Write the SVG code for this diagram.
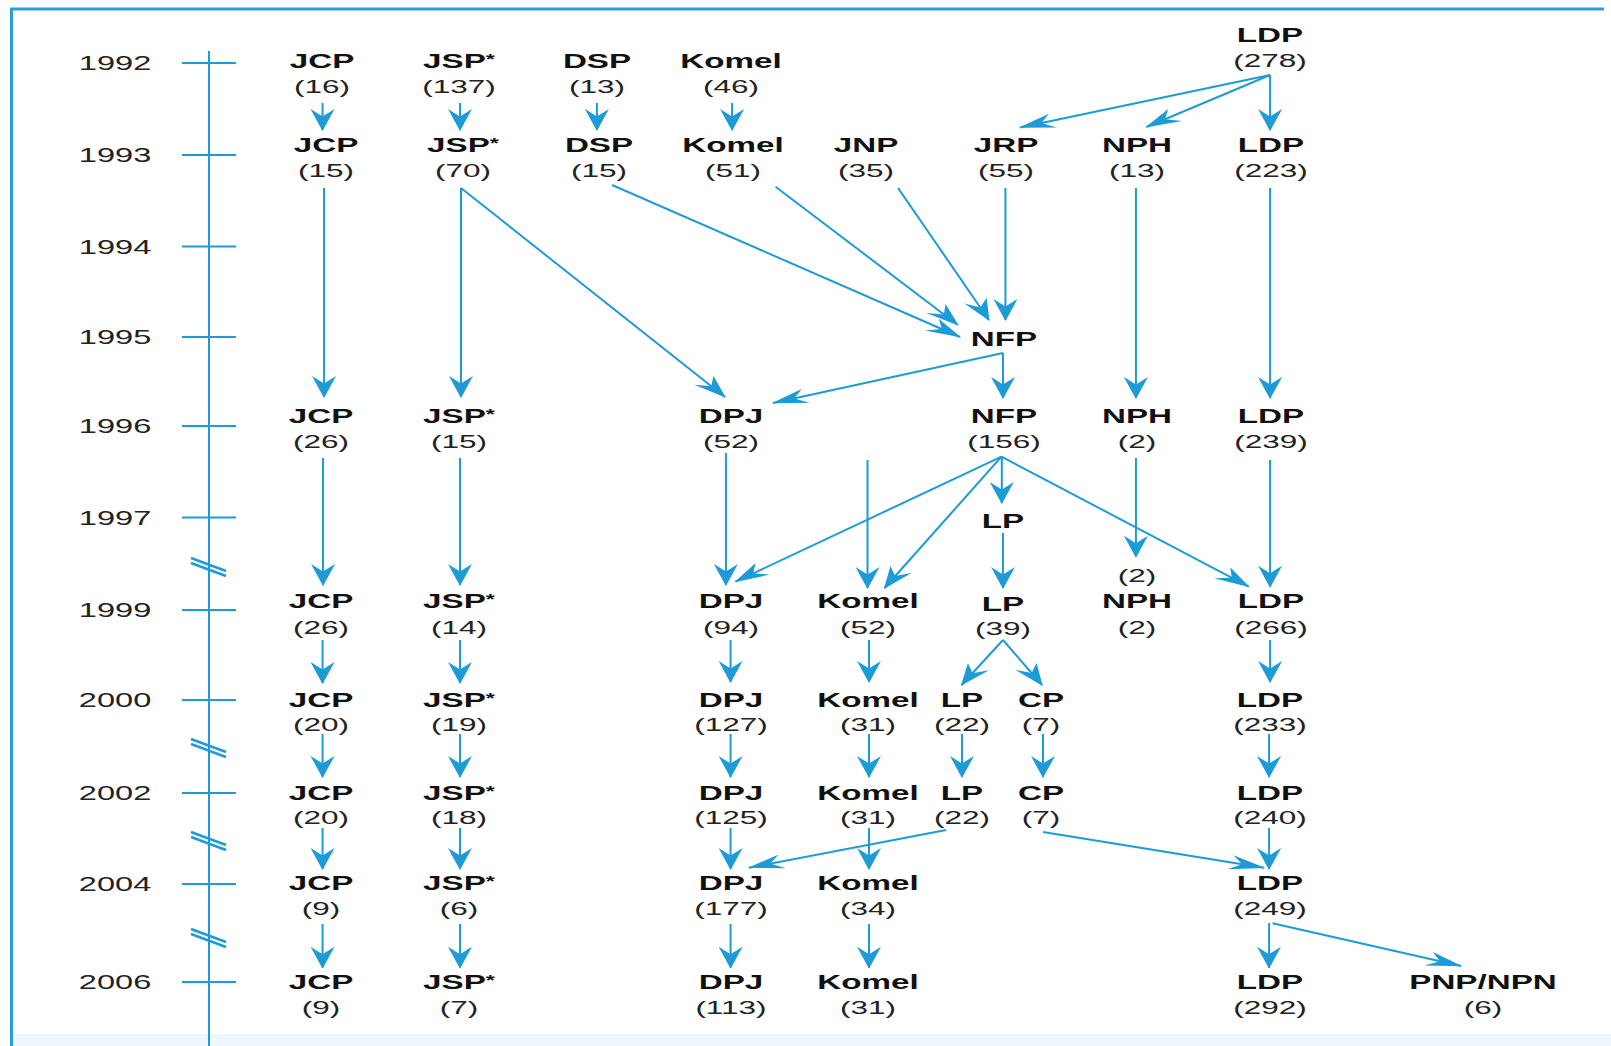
<svg xmlns="http://www.w3.org/2000/svg" width="1611" height="1046" viewBox="0 0 1611 1046">
<defs>
<style>
.n{font-family:"Liberation Sans",Arial,sans-serif;font-weight:bold;font-size:20px;fill:#111;text-anchor:middle}
.c{font-family:"Liberation Sans",Arial,sans-serif;font-size:19px;fill:#222;text-anchor:middle}
.y{font-family:"Liberation Sans",Arial,sans-serif;font-size:20px;fill:#222;text-anchor:middle}
.ax{stroke:#1d9bd7;stroke-width:2;fill:none}
.tk{stroke:#1d9bd7;stroke-width:1.8;fill:none}
.br{stroke:#1d9bd7;stroke-width:2.5;fill:none}
#connectors line{stroke:#1d9bd7;stroke-width:2;fill:none;marker-end:url(#ah);vector-effect:non-scaling-stroke}
</style>
<marker id="ah" markerUnits="userSpaceOnUse" markerWidth="22" markerHeight="14.5" viewBox="0 0 22 14.5" refX="21" refY="7.25" orient="auto">
<path d="M0,0 L22,7.25 L0,14.5 L7.5,7.25 Z" fill="#1d9bd7"/>
</marker>
</defs>
<rect x="0" y="0" width="1611" height="1046" fill="#fff"/>
<rect x="13" y="1034" width="1598" height="12" fill="#eef8fc"/>
<g id="frame">
<line x1="10" y1="9" x2="1604" y2="9" stroke="#2a9fd3" stroke-width="3"/>
<line x1="11.5" y1="9" x2="11.5" y2="1046" stroke="#2a9fd3" stroke-width="3"/>
</g>
<g id="timeline">
<line class="ax" x1="209" y1="51" x2="209" y2="1046"/>
<line class="tk" x1="182" y1="63" x2="236" y2="63"/>
<line class="tk" x1="182" y1="155" x2="236" y2="155"/>
<line class="tk" x1="182" y1="246.5" x2="236" y2="246.5"/>
<line class="tk" x1="182" y1="337" x2="236" y2="337"/>
<line class="tk" x1="182" y1="426" x2="236" y2="426"/>
<line class="tk" x1="182" y1="517.5" x2="236" y2="517.5"/>
<line class="tk" x1="182" y1="610" x2="236" y2="610"/>
<line class="tk" x1="182" y1="700" x2="236" y2="700"/>
<line class="tk" x1="182" y1="793" x2="236" y2="793"/>
<line class="tk" x1="182" y1="884" x2="236" y2="884"/>
<line class="tk" x1="182" y1="982" x2="236" y2="982"/>
<g id="breaks">
<line class="br" x1="191" y1="558" x2="226" y2="571"/><line class="br" x1="191" y1="563" x2="226" y2="576"/>
<line class="br" x1="191" y1="739" x2="226" y2="752"/><line class="br" x1="191" y1="744" x2="226" y2="757"/>
<line class="br" x1="191" y1="832" x2="226" y2="845"/><line class="br" x1="191" y1="837" x2="226" y2="850"/>
<line class="br" x1="191" y1="929" x2="226" y2="942"/><line class="br" x1="191" y1="934" x2="226" y2="947"/>
</g>
<text class="y" transform="matrix(1.63 0 0 1 115 70)">1992</text>
<text class="y" transform="matrix(1.63 0 0 1 115 162)">1993</text>
<text class="y" transform="matrix(1.63 0 0 1 115 253.5)">1994</text>
<text class="y" transform="matrix(1.63 0 0 1 115 344)">1995</text>
<text class="y" transform="matrix(1.63 0 0 1 115 433)">1996</text>
<text class="y" transform="matrix(1.63 0 0 1 115 524.5)">1997</text>
<text class="y" transform="matrix(1.63 0 0 1 115 617)">1999</text>
<text class="y" transform="matrix(1.63 0 0 1 115 707)">2000</text>
<text class="y" transform="matrix(1.63 0 0 1 115 800)">2002</text>
<text class="y" transform="matrix(1.63 0 0 1 115 891)">2004</text>
<text class="y" transform="matrix(1.63 0 0 1 115 989)">2006</text>
</g>
<g id="connectors" transform="scale(1.66 1)">
<line x1="194.3" y1="103" x2="194.3" y2="130"/>
<line x1="277.1" y1="103" x2="277.1" y2="130"/>
<line x1="359.6" y1="103" x2="359.6" y2="130"/>
<line x1="441" y1="103" x2="441" y2="130"/>
<line x1="765.1" y1="75" x2="614.5" y2="127.5"/>
<line x1="765.1" y1="75" x2="690.7" y2="127"/>
<line x1="765.1" y1="75" x2="765.1" y2="130"/>
<line x1="195.2" y1="188" x2="195.2" y2="397"/>
<line x1="277.7" y1="188" x2="277.7" y2="397"/>
<line x1="277.7" y1="188" x2="436.7" y2="397"/>
<line x1="368.7" y1="185" x2="578.3" y2="337"/>
<line x1="467.2" y1="186.7" x2="577" y2="325"/>
<line x1="541" y1="188" x2="595.7" y2="320"/>
<line x1="605.7" y1="188" x2="605.7" y2="320"/>
<line x1="684.3" y1="188" x2="684.3" y2="398"/>
<line x1="765.1" y1="188" x2="765.1" y2="398"/>
<line x1="604.2" y1="353" x2="604.2" y2="398"/>
<line x1="604.2" y1="353" x2="465.7" y2="403"/>
<line x1="194.6" y1="458" x2="194.6" y2="585"/>
<line x1="277.1" y1="458" x2="277.1" y2="585"/>
<line x1="437.3" y1="453" x2="437.3" y2="585"/>
<line x1="522.6" y1="460" x2="522.6" y2="588"/>
<line x1="603.3" y1="456.7" x2="443.1" y2="581.7"/>
<line x1="603.3" y1="456.7" x2="532.9" y2="588"/>
<line x1="603.5" y1="456.7" x2="603.5" y2="503"/>
<line x1="603.3" y1="456.7" x2="752.2" y2="586.7"/>
<line x1="604.2" y1="533" x2="604.2" y2="588"/>
<line x1="684.3" y1="458" x2="684.3" y2="556.7"/>
<line x1="765.1" y1="460" x2="765.1" y2="586.7"/>
<line x1="194.3" y1="640" x2="194.3" y2="683"/>
<line x1="277.1" y1="640" x2="277.1" y2="683"/>
<line x1="440.1" y1="640" x2="440.1" y2="682"/>
<line x1="523.5" y1="640" x2="523.5" y2="682"/>
<line x1="604.2" y1="640" x2="579.3" y2="685"/>
<line x1="604.2" y1="640" x2="627.7" y2="685"/>
<line x1="765.1" y1="640" x2="765.1" y2="682"/>
<line x1="194.3" y1="734" x2="194.3" y2="777"/>
<line x1="277.1" y1="734" x2="277.1" y2="777"/>
<line x1="440.1" y1="734" x2="440.1" y2="777"/>
<line x1="523.5" y1="734" x2="523.5" y2="777"/>
<line x1="579.5" y1="734" x2="579.5" y2="777"/>
<line x1="628.3" y1="734" x2="628.3" y2="777"/>
<line x1="764.5" y1="734" x2="764.5" y2="777"/>
<line x1="194.3" y1="828" x2="194.3" y2="869"/>
<line x1="277.1" y1="828" x2="277.1" y2="869"/>
<line x1="440.1" y1="828" x2="440.1" y2="869"/>
<line x1="523.5" y1="828" x2="523.5" y2="869"/>
<line x1="764.5" y1="828" x2="764.5" y2="869"/>
<line x1="569.9" y1="830" x2="451.2" y2="867.7"/>
<line x1="628.3" y1="832" x2="761.4" y2="867.7"/>
<line x1="194.3" y1="924" x2="194.3" y2="967.7"/>
<line x1="277.1" y1="924" x2="277.1" y2="967.7"/>
<line x1="440.1" y1="924" x2="440.1" y2="967.7"/>
<line x1="523.5" y1="924" x2="523.5" y2="967.7"/>
<line x1="764.5" y1="923" x2="764.5" y2="967.7"/>
<line x1="766.6" y1="923.3" x2="880.1" y2="966"/>
</g>
<g id="jcp1992"><text class="n" transform="matrix(1.66 0 0 1 322 68)">JCP</text><text class="c" transform="matrix(1.66 0 0 1 322 93)">(16)</text></g>
<g id="jsp1992"><text class="n" transform="matrix(1.66 0 0 1 459 68)">JSP<tspan font-size="14" dy="-4">*</tspan></text><text class="c" transform="matrix(1.66 0 0 1 459 93)">(137)</text></g>
<g id="dsp1992"><text class="n" transform="matrix(1.66 0 0 1 597 68)">DSP</text><text class="c" transform="matrix(1.66 0 0 1 597 93)">(13)</text></g>
<g id="komel1992"><text class="n" transform="matrix(1.66 0 0 1 731 68)">Komel</text><text class="c" transform="matrix(1.66 0 0 1 731 93)">(46)</text></g>
<g id="ldp1992"><text class="n" transform="matrix(1.66 0 0 1 1270 42)">LDP</text><text class="c" transform="matrix(1.66 0 0 1 1270 67)">(278)</text></g>
<g id="jcp1993"><text class="n" transform="matrix(1.66 0 0 1 326 152)">JCP</text><text class="c" transform="matrix(1.66 0 0 1 326 177)">(15)</text></g>
<g id="jsp1993"><text class="n" transform="matrix(1.66 0 0 1 463 152)">JSP<tspan font-size="14" dy="-4">*</tspan></text><text class="c" transform="matrix(1.66 0 0 1 463 177)">(70)</text></g>
<g id="dsp1993"><text class="n" transform="matrix(1.66 0 0 1 599 152)">DSP</text><text class="c" transform="matrix(1.66 0 0 1 599 177)">(15)</text></g>
<g id="komel1993"><text class="n" transform="matrix(1.66 0 0 1 733 152)">Komel</text><text class="c" transform="matrix(1.66 0 0 1 733 177)">(51)</text></g>
<g id="jnp1993"><text class="n" transform="matrix(1.66 0 0 1 866 152)">JNP</text><text class="c" transform="matrix(1.66 0 0 1 866 177)">(35)</text></g>
<g id="jrp1993"><text class="n" transform="matrix(1.66 0 0 1 1006 152)">JRP</text><text class="c" transform="matrix(1.66 0 0 1 1006 177)">(55)</text></g>
<g id="nph1993"><text class="n" transform="matrix(1.66 0 0 1 1137 152)">NPH</text><text class="c" transform="matrix(1.66 0 0 1 1137 177)">(13)</text></g>
<g id="ldp1993"><text class="n" transform="matrix(1.66 0 0 1 1271 152)">LDP</text><text class="c" transform="matrix(1.66 0 0 1 1271 177)">(223)</text></g>
<g id="nfp1995"><text class="n" transform="matrix(1.66 0 0 1 1004 346)">NFP</text></g>
<g id="jcp1996"><text class="n" transform="matrix(1.66 0 0 1 321 423)">JCP</text><text class="c" transform="matrix(1.66 0 0 1 321 448)">(26)</text></g>
<g id="jsp1996"><text class="n" transform="matrix(1.66 0 0 1 459 423)">JSP<tspan font-size="14" dy="-4">*</tspan></text><text class="c" transform="matrix(1.66 0 0 1 459 448)">(15)</text></g>
<g id="dpj1996"><text class="n" transform="matrix(1.66 0 0 1 731 423)">DPJ</text><text class="c" transform="matrix(1.66 0 0 1 731 448)">(52)</text></g>
<g id="nfp1996"><text class="n" transform="matrix(1.66 0 0 1 1004 423)">NFP</text><text class="c" transform="matrix(1.66 0 0 1 1004 448)">(156)</text></g>
<g id="nph1996"><text class="n" transform="matrix(1.66 0 0 1 1137 423)">NPH</text><text class="c" transform="matrix(1.66 0 0 1 1137 448)">(2)</text></g>
<g id="ldp1996"><text class="n" transform="matrix(1.66 0 0 1 1271 423)">LDP</text><text class="c" transform="matrix(1.66 0 0 1 1271 448)">(239)</text></g>
<g id="lp1997"><text class="n" transform="matrix(1.66 0 0 1 1003 528)">LP</text></g>
<g id="jcp1999"><text class="n" transform="matrix(1.66 0 0 1 321 608)">JCP</text><text class="c" transform="matrix(1.66 0 0 1 321 634)">(26)</text></g>
<g id="jsp1999"><text class="n" transform="matrix(1.66 0 0 1 459 608)">JSP<tspan font-size="14" dy="-4">*</tspan></text><text class="c" transform="matrix(1.66 0 0 1 459 634)">(14)</text></g>
<g id="dpj1999"><text class="n" transform="matrix(1.66 0 0 1 731 608)">DPJ</text><text class="c" transform="matrix(1.66 0 0 1 731 634)">(94)</text></g>
<g id="komel1999"><text class="n" transform="matrix(1.66 0 0 1 868 608)">Komel</text><text class="c" transform="matrix(1.66 0 0 1 868 634)">(52)</text></g>
<g id="lp1999"><text class="n" transform="matrix(1.66 0 0 1 1003 611)">LP</text><text class="c" transform="matrix(1.66 0 0 1 1003 635)">(39)</text></g>
<g id="nph1999"><text class="c" transform="matrix(1.66 0 0 1 1137 582)">(2)</text><text class="n" transform="matrix(1.66 0 0 1 1137 608)">NPH</text><text class="c" transform="matrix(1.66 0 0 1 1137 634)">(2)</text></g>
<g id="ldp1999"><text class="n" transform="matrix(1.66 0 0 1 1271 608)">LDP</text><text class="c" transform="matrix(1.66 0 0 1 1271 634)">(266)</text></g>
<g id="jcp2000"><text class="n" transform="matrix(1.66 0 0 1 321 707)">JCP</text><text class="c" transform="matrix(1.66 0 0 1 321 731)">(20)</text></g>
<g id="jsp2000"><text class="n" transform="matrix(1.66 0 0 1 459 707)">JSP<tspan font-size="14" dy="-4">*</tspan></text><text class="c" transform="matrix(1.66 0 0 1 459 731)">(19)</text></g>
<g id="dpj2000"><text class="n" transform="matrix(1.66 0 0 1 731 707)">DPJ</text><text class="c" transform="matrix(1.66 0 0 1 731 731)">(127)</text></g>
<g id="komel2000"><text class="n" transform="matrix(1.66 0 0 1 868 707)">Komel</text><text class="c" transform="matrix(1.66 0 0 1 868 731)">(31)</text></g>
<g id="lp2000"><text class="n" transform="matrix(1.66 0 0 1 962 707)">LP</text><text class="c" transform="matrix(1.66 0 0 1 962 731)">(22)</text></g>
<g id="cp2000"><text class="n" transform="matrix(1.66 0 0 1 1041 707)">CP</text><text class="c" transform="matrix(1.66 0 0 1 1041 731)">(7)</text></g>
<g id="ldp2000"><text class="n" transform="matrix(1.66 0 0 1 1270 707)">LDP</text><text class="c" transform="matrix(1.66 0 0 1 1270 731)">(233)</text></g>
<g id="jcp2002"><text class="n" transform="matrix(1.66 0 0 1 321 800)">JCP</text><text class="c" transform="matrix(1.66 0 0 1 321 824)">(20)</text></g>
<g id="jsp2002"><text class="n" transform="matrix(1.66 0 0 1 459 800)">JSP<tspan font-size="14" dy="-4">*</tspan></text><text class="c" transform="matrix(1.66 0 0 1 459 824)">(18)</text></g>
<g id="dpj2002"><text class="n" transform="matrix(1.66 0 0 1 731 800)">DPJ</text><text class="c" transform="matrix(1.66 0 0 1 731 824)">(125)</text></g>
<g id="komel2002"><text class="n" transform="matrix(1.66 0 0 1 868 800)">Komel</text><text class="c" transform="matrix(1.66 0 0 1 868 824)">(31)</text></g>
<g id="lp2002"><text class="n" transform="matrix(1.66 0 0 1 962 800)">LP</text><text class="c" transform="matrix(1.66 0 0 1 962 824)">(22)</text></g>
<g id="cp2002"><text class="n" transform="matrix(1.66 0 0 1 1041 800)">CP</text><text class="c" transform="matrix(1.66 0 0 1 1041 824)">(7)</text></g>
<g id="ldp2002"><text class="n" transform="matrix(1.66 0 0 1 1270 800)">LDP</text><text class="c" transform="matrix(1.66 0 0 1 1270 824)">(240)</text></g>
<g id="jcp2004"><text class="n" transform="matrix(1.66 0 0 1 321 890)">JCP</text><text class="c" transform="matrix(1.66 0 0 1 321 915)">(9)</text></g>
<g id="jsp2004"><text class="n" transform="matrix(1.66 0 0 1 459 890)">JSP<tspan font-size="14" dy="-4">*</tspan></text><text class="c" transform="matrix(1.66 0 0 1 459 915)">(6)</text></g>
<g id="dpj2004"><text class="n" transform="matrix(1.66 0 0 1 731 890)">DPJ</text><text class="c" transform="matrix(1.66 0 0 1 731 915)">(177)</text></g>
<g id="komel2004"><text class="n" transform="matrix(1.66 0 0 1 868 890)">Komel</text><text class="c" transform="matrix(1.66 0 0 1 868 915)">(34)</text></g>
<g id="ldp2004"><text class="n" transform="matrix(1.66 0 0 1 1270 890)">LDP</text><text class="c" transform="matrix(1.66 0 0 1 1270 915)">(249)</text></g>
<g id="jcp2006"><text class="n" transform="matrix(1.66 0 0 1 321 989)">JCP</text><text class="c" transform="matrix(1.66 0 0 1 321 1014)">(9)</text></g>
<g id="jsp2006"><text class="n" transform="matrix(1.66 0 0 1 459 989)">JSP<tspan font-size="14" dy="-4">*</tspan></text><text class="c" transform="matrix(1.66 0 0 1 459 1014)">(7)</text></g>
<g id="dpj2006"><text class="n" transform="matrix(1.66 0 0 1 731 989)">DPJ</text><text class="c" transform="matrix(1.66 0 0 1 731 1014)">(113)</text></g>
<g id="komel2006"><text class="n" transform="matrix(1.66 0 0 1 868 989)">Komel</text><text class="c" transform="matrix(1.66 0 0 1 868 1014)">(31)</text></g>
<g id="ldp2006"><text class="n" transform="matrix(1.66 0 0 1 1270 989)">LDP</text><text class="c" transform="matrix(1.66 0 0 1 1270 1014)">(292)</text></g>
<g id="pnp2006"><text class="n" transform="matrix(1.66 0 0 1 1483 989)">PNP/NPN</text><text class="c" transform="matrix(1.66 0 0 1 1483 1014)">(6)</text></g>
</svg>
